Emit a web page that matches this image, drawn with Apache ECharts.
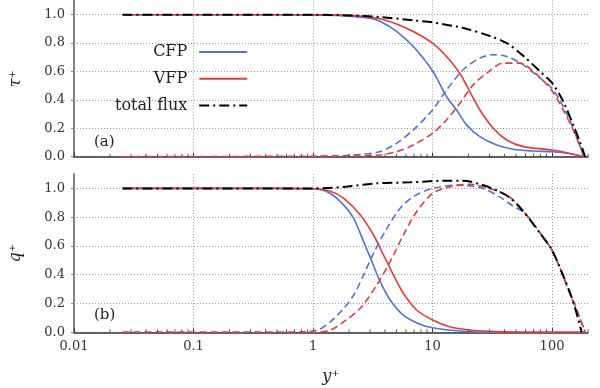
<!DOCTYPE html>
<html><head><meta charset="utf-8">
<script src="https://cdn.jsdelivr.net/npm/echarts@6/dist/echarts.min.js"></script>
<style>html,body{margin:0;padding:0;background:#fff}#c{width:600px;height:388px}</style>
</head><body><div id="c"></div>
<script>
// ---- tick values ----
const xTicks = [0.01, 0.1, 1, 10, 100];
const xMinorTicks = [0.02,0.03,0.04,0.05,0.06,0.07,0.08,0.09,
  0.2,0.3,0.4,0.5,0.6,0.7,0.8,0.9, 2,3,4,5,6,7,8,9,
  20,30,40,50,60,70,80,90, 200];
const yTicks = [0, 0.2, 0.4, 0.6, 0.8, 1.0];

// ---- panel (a): tau+ ----
const xA_cfp = [0.0255, 0.5, 1, 2, 3, 3.6, 5, 6.9, 10, 13.1, 15.9, 19.3, 24.9, 34.4, 47.4, 70, 100, 140, 185];
const a_cfp  = [1, 1, 0.998, 0.99, 0.975, 0.955, 0.882, 0.776, 0.605, 0.424, 0.329, 0.224, 0.141, 0.082, 0.052, 0.04, 0.035, 0.022, 0];
const xA_vfp = [0.0255, 0.5, 1, 2, 3.6, 5, 6.9, 10, 13.1, 16.9, 20.5, 24.9, 32.2, 41.7, 57.5, 100, 133, 185];
const a_vfp  = [1, 1, 0.999, 0.995, 0.972, 0.935, 0.882, 0.8, 0.706, 0.588, 0.459, 0.329, 0.2, 0.118, 0.071, 0.047, 0.028, 0];
const xA_cfpT = [0.0255, 1, 2, 3.6, 5, 6.9, 10, 13.1, 18.1, 24.9, 32.2, 41.7, 57.5, 79.4, 100, 124, 146, 172, 185];
const a_cfpT  = [0, 0, 0.01, 0.035, 0.094, 0.188, 0.329, 0.47, 0.612, 0.694, 0.718, 0.706, 0.647, 0.553, 0.482, 0.353, 0.224, 0.071, 0];
const xA_vfpT = [0.0255, 2, 3.6, 5, 6.9, 10, 13.1, 16.9, 21.9, 28.4, 39.1, 53.9, 69.8, 100, 124, 146, 172, 185];
const a_vfpT  = [0, 0.005, 0.012, 0.035, 0.082, 0.165, 0.259, 0.376, 0.506, 0.588, 0.659, 0.659, 0.6, 0.465, 0.329, 0.212, 0.071, 0];
const xA_tot = [0.0255, 1, 2, 3.6, 6.9, 10, 18.1, 30.2, 41.7, 57.5, 79.4, 100, 124, 151, 172, 189];
const a_tot  = [1, 1, 0.995, 0.984, 0.96, 0.946, 0.906, 0.85, 0.8, 0.71, 0.6, 0.52, 0.39, 0.22, 0.1, 0];

// ---- panel (b): q+ ----
const xB_cfp = [0.0255, 0.5, 1, 1.4, 1.81, 2.19, 2.65, 3.11, 3.65, 4.42, 5.7, 7.85, 10, 16.9, 30, 190];
const b_cfp  = [1, 1, 0.997, 0.965, 0.884, 0.792, 0.63, 0.491, 0.352, 0.225, 0.12, 0.056, 0.032, 0.009, 0, 0];
const xB_vfp = [0.0255, 0.5, 1, 1.4, 1.81, 2.49, 3.21, 3.89, 4.71, 5.7, 7.36, 10, 13.9, 20.4, 34, 60, 190];
const b_vfp  = [1, 1, 0.998, 0.98, 0.93, 0.815, 0.676, 0.537, 0.398, 0.271, 0.155, 0.086, 0.039, 0.016, 0.005, 0, 0];
const xB_cfpT = [0.0255, 0.7, 1.09, 1.4, 1.81, 2.19, 2.65, 3.21, 4.15, 5.35, 6.91, 10, 16.9, 26.4, 36.7, 47.5, 60.6, 79.4, 100, 133, 161, 190];
const b_cfpT  = [0, 0, 0.016, 0.074, 0.167, 0.259, 0.398, 0.549, 0.722, 0.861, 0.942, 1.0, 1.023, 1.0, 0.939, 0.876, 0.82, 0.69, 0.57, 0.324, 0.16, 0];
const xB_vfpT = [0.0255, 1, 1.4, 1.81, 2.49, 3.42, 4.42, 5.7, 7.36, 10, 13.9, 20.4, 29.9, 44, 57.5, 79.4, 100, 124, 151, 190];
const b_vfpT  = [0, 0, 0.016, 0.074, 0.167, 0.329, 0.491, 0.676, 0.838, 0.965, 1.01, 1.028, 1.0, 0.942, 0.84, 0.69, 0.57, 0.394, 0.207, 0];
const xB_tot = [0.0255, 1, 1.81, 3.42, 6.48, 12.3, 18, 26.4, 36.3, 44.6, 57.5, 79.4, 100, 124, 151, 177];
const b_tot  = [1, 1, 1.01, 1.035, 1.042, 1.053, 1.053, 1.023, 0.977, 0.934, 0.84, 0.688, 0.57, 0.394, 0.207, 0];

const legendNames = ['CFP', 'VFP', 'total flux'];
const panelLabels = ['(a)', '(b)'];

// ---- styling ----
const FONT = 'DejaVu Serif';
const BLUE = '#4f72d9', RED = '#e8393b', BLACK = '#000';
const pair = (xs, ys) => xs.map((x, i) => [x, ys[i]]);

function xAxis(gi, showLabels) {
  return {
    type: 'log', logBase: 10, gridIndex: gi, min: 0.01, max: 200,
    axisLine: { show: true, onZero: false, lineStyle: { color: '#333', width: 1.5 } },
    axisTick: { show: true, inside: true, length: 4, lineStyle: { color: '#333', width: 1 }, customValues: xTicks },
    axisLabel: { show: showLabels, customValues: xTicks, fontFamily: FONT, fontSize: 13, color: '#333', margin: 8,
      formatter: v => String(v) },
    splitLine: { show: true, lineStyle: { color: '#999', width: 1, type: [1, 2] } },
    name: showLabels ? 'y\u207A' : '', nameLocation: 'middle', nameGap: 37,
    nameTextStyle: { fontFamily: FONT, fontSize: 16, fontStyle: 'italic', color: '#222' }
  };
}
function yAxis(gi, name) {
  return {
    type: 'value', gridIndex: gi, min: 0, max: 1.1,
    axisLine: { show: true, lineStyle: { color: '#808080', width: 2 } },
    axisTick: { show: true, length: 3, lineStyle: { color: '#808080' }, customValues: yTicks },
    axisLabel: { customValues: yTicks, fontFamily: FONT, fontSize: 13, color: '#333', margin: 9,
      formatter: v => v.toFixed(1) },
    splitLine: { show: true, lineStyle: { color: '#999', width: 1, type: [1, 2] } },
    name: name, nameLocation: 'middle', nameRotate: 90, nameGap: 50,
    nameTextStyle: { fontFamily: FONT, fontSize: 16, fontStyle: 'italic', color: '#222' }
  };
}
function line(gi, name, data, color, type, width, z) {
  return {
    type: 'line', name: name, xAxisIndex: gi, yAxisIndex: gi, data: data,
    showSymbol: false, symbol: 'none', smooth: 0.3, z: z, silent: true,
    lineStyle: { color: color, width: width, type: type }, itemStyle: { color: color }
  };
}
function minorTickSeries(gi) {
  return {
    type: 'scatter', xAxisIndex: gi, yAxisIndex: gi, silent: true, z: 10,
    data: xMinorTicks.map(v => [v, 0]), symbol: 'rect', symbolSize: [1, 3], symbolOffset: [0, -1.5],
    itemStyle: { color: '#333' }
  };
}
const DASH = [7, 4], DASHDOT = [10, 4, 2, 4];

const option = {
  animation: false,
  backgroundColor: '#fff',
  grid: [
    { left: 73, right: 12, top: 0.5, bottom: 231.3 },
    { left: 73, right: 12, top: 174, bottom: 55.7 }
  ],
  xAxis: [xAxis(0, false), xAxis(1, true)],
  yAxis: [yAxis(0, '\u03C4\u207A'), yAxis(1, 'q\u207A')],
  legend: {
    data: legendNames, orient: 'vertical', align: 'right', left: 115, top: 42.5, padding: 0,
    itemWidth: 48, itemHeight: 14, itemGap: 7.7, selectedMode: false,
    itemStyle: { opacity: 0 },
    textStyle: { fontFamily: FONT, fontSize: 16, color: '#222', lineHeight: 19, padding: [0, 7, 0, 0] }
  },
  graphic: [
    { type: 'text', left: 94, top: 135, style: { text: panelLabels[0], font: '15px "DejaVu Serif"', fill: '#222' } },
    { type: 'text', left: 94, top: 308, style: { text: panelLabels[1], font: '15px "DejaVu Serif"', fill: '#222' } }
  ],
  series: [
    line(0, 'CFP', pair(xA_cfp, a_cfp), BLUE, 'solid', 1.6, 2),
    line(0, 'VFP', pair(xA_vfp, a_vfp), RED, 'solid', 1.6, 3),
    line(0, 'CFP turbulent', pair(xA_cfpT, a_cfpT), BLUE, DASH, 1.6, 4),
    line(0, 'VFP turbulent', pair(xA_vfpT, a_vfpT), RED, DASH, 1.6, 5),
    line(0, 'total flux', pair(xA_tot, a_tot), BLACK, DASHDOT, 2, 6),
    line(1, 'CFP', pair(xB_cfp, b_cfp), BLUE, 'solid', 1.6, 2),
    line(1, 'VFP', pair(xB_vfp, b_vfp), RED, 'solid', 1.6, 3),
    line(1, 'CFP turbulent', pair(xB_cfpT, b_cfpT), BLUE, DASH, 1.6, 4),
    line(1, 'VFP turbulent', pair(xB_vfpT, b_vfpT), RED, DASH, 1.6, 5),
    line(1, 'total flux', pair(xB_tot, b_tot), BLACK, DASHDOT, 2, 6),
    minorTickSeries(0), minorTickSeries(1)
  ]
};
const chart = echarts.init(document.getElementById('c'), null, { renderer: 'canvas' });
chart.setOption(option);
</script></body></html>
